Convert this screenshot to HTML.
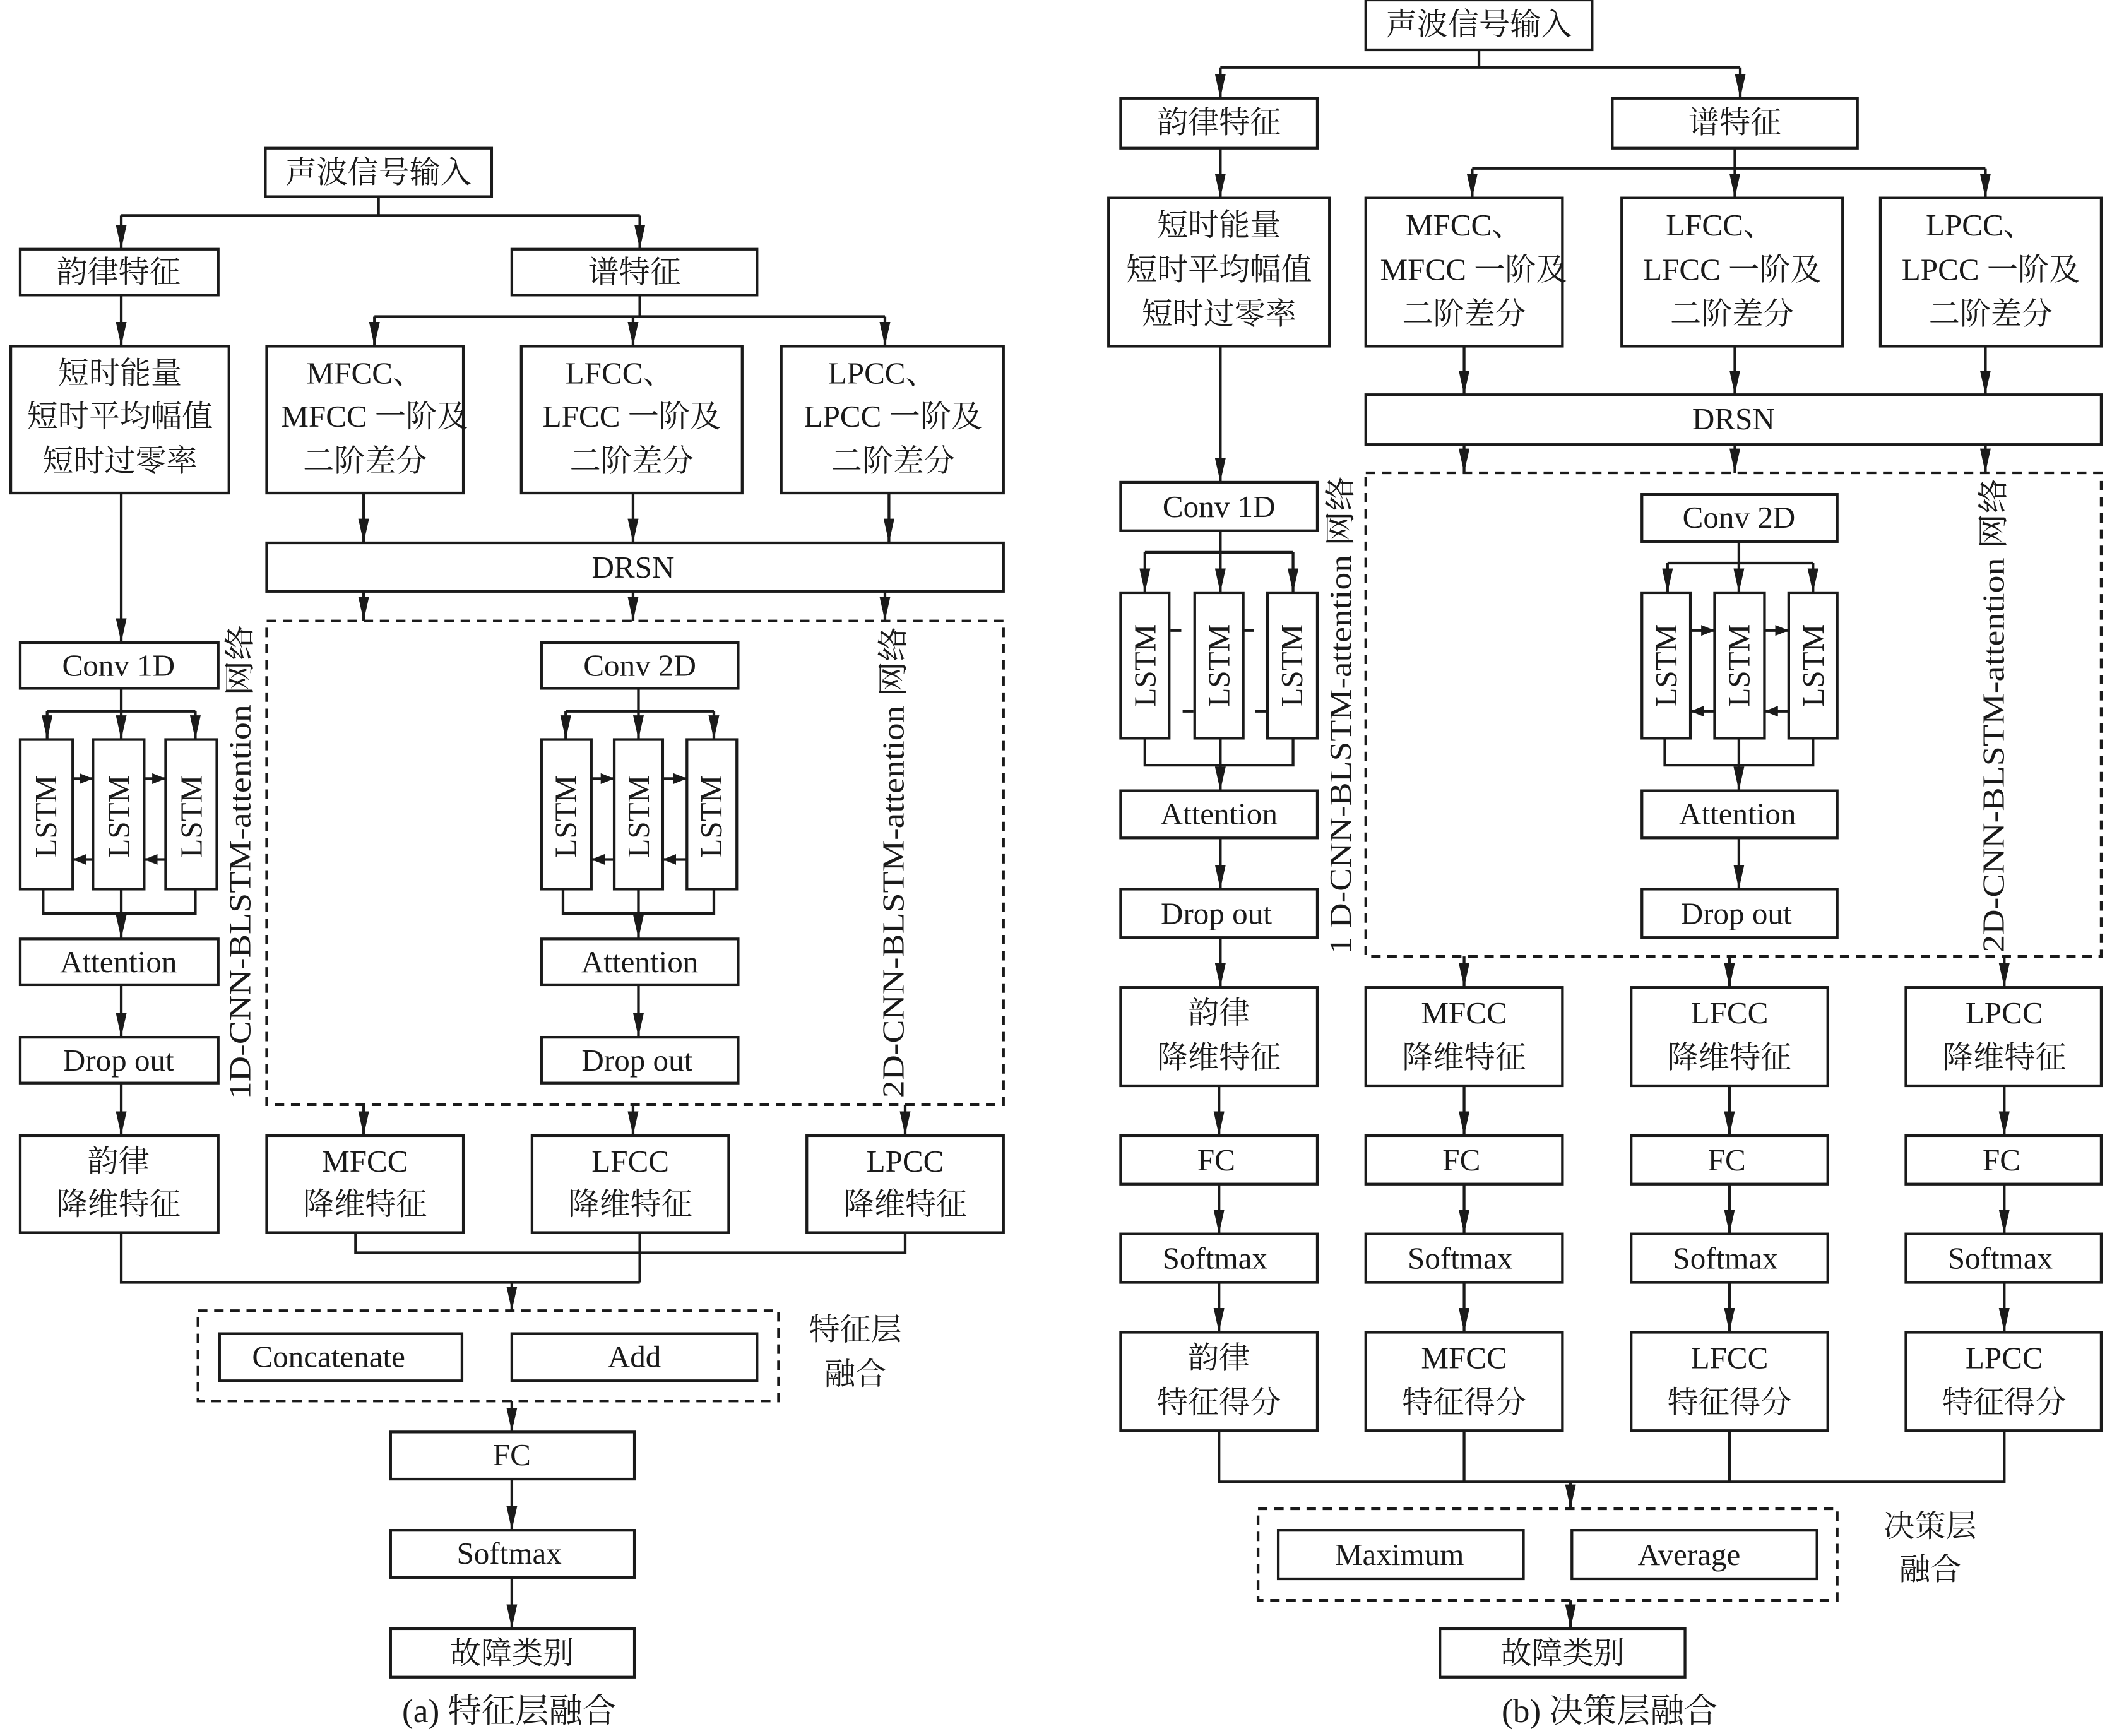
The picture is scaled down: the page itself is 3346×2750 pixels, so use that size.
<!DOCTYPE html>
<html><head><meta charset="utf-8"><style>
html,body{margin:0;padding:0;background:#fff}
svg{display:block}
text{font-family:"Liberation Serif","Noto Serif CJK SC",serif;fill:#1a1a1a;font-size:23px;text-anchor:middle;dominant-baseline:central}
rect{fill:none;stroke:#1a1a1a;stroke-width:2}
.d{stroke-dasharray:7,5}
line,polyline{stroke:#1a1a1a;stroke-width:2;fill:none}
.a{marker-end:url(#ah)}
.s{marker-end:url(#sh)}
</style></head><body>
<svg width="3346" height="2750" viewBox="0 0 1568 1288.7" preserveAspectRatio="none" xmlns="http://www.w3.org/2000/svg">
<defs>
<marker id="ah" markerUnits="userSpaceOnUse" viewBox="0 0 18 8" refX="18" refY="4" markerWidth="18" markerHeight="8" orient="auto"><path d="M0,0 L18,4 L0,8 z" fill="#1a1a1a"/></marker>
<marker id="sh" markerUnits="userSpaceOnUse" viewBox="0 0 10 8" refX="10" refY="4" markerWidth="10" markerHeight="8" orient="auto"><path d="M0,0 L10,4 L0,8 z" fill="#1a1a1a"/></marker>
</defs>

<!-- ===== (a) ===== -->
<rect x="197" y="110" width="168" height="36"/><text x="281" y="128">声波信号输入</text>
<line x1="281" y1="146" x2="281" y2="160"/><line x1="90" y1="160" x2="475" y2="160"/>
<line class="a" x1="90" y1="160" x2="90" y2="185"/><line class="a" x1="475" y1="160" x2="475" y2="185"/>
<rect x="15" y="185" width="147" height="34"/><text x="88" y="202">韵律特征</text>
<rect x="380" y="185" width="182" height="34"/><text x="471" y="202">谱特征</text>
<line class="a" x1="90" y1="219" x2="90" y2="257"/>
<rect x="8" y="257" width="162" height="109"/>
<text x="89" y="277">短时能量</text><text x="89" y="309">短时平均幅值</text><text x="89" y="342">短时过零率</text>
<line x1="475" y1="219" x2="475" y2="235"/><line x1="278" y1="235" x2="657" y2="235"/>
<line class="a" x1="278" y1="235" x2="278" y2="257"/><line class="a" x1="470" y1="235" x2="470" y2="257"/><line class="a" x1="657" y1="235" x2="657" y2="257"/>
<rect x="198" y="257" width="146" height="109"/><text x="271" y="277">MFCC、</text><text x="278" y="309">MFCC 一阶及</text><text x="271" y="342">二阶差分</text>
<rect x="387" y="257" width="164" height="109"/><text x="460" y="277">LFCC、</text><text x="469" y="309">LFCC 一阶及</text><text x="469" y="342">二阶差分</text>
<rect x="580" y="257" width="165" height="109"/><text x="655" y="277">LPCC、</text><text x="663" y="309">LPCC 一阶及</text><text x="663" y="342">二阶差分</text>
<line class="a" x1="270" y1="366" x2="270" y2="403"/><line class="a" x1="470" y1="366" x2="470" y2="403"/><line class="a" x1="660" y1="366" x2="660" y2="403"/>
<rect x="198" y="403" width="547" height="36"/><text x="470" y="421">DRSN</text>
<line class="a" x1="270" y1="439" x2="270" y2="461"/><line class="a" x1="470" y1="439" x2="470" y2="461"/><line class="a" x1="657" y1="439" x2="657" y2="461"/>
<rect class="d" x="198" y="461" width="547" height="359"/>
<line class="a" x1="90" y1="366" x2="90" y2="477"/>
<rect x="15" y="477" width="147" height="34"/><text x="88" y="494">Conv  1D</text>
<line x1="90" y1="511" x2="90" y2="528"/><line x1="35" y1="528" x2="145" y2="528"/>
<line class="a" x1="35" y1="528" x2="35" y2="549"/><line class="a" x1="90" y1="528" x2="90" y2="549"/><line class="a" x1="145" y1="528" x2="145" y2="549"/>
<rect x="15" y="549" width="39" height="111"/><rect x="69" y="549" width="38" height="111"/><rect x="123" y="549" width="38" height="111"/>
<text transform="rotate(-90 34 606)" x="34" y="606">LSTM</text><text transform="rotate(-90 88 606)" x="88" y="606">LSTM</text><text transform="rotate(-90 142 606)" x="142" y="606">LSTM</text>
<line class="s" x1="54" y1="578" x2="69" y2="578"/><line class="s" x1="107" y1="578" x2="123" y2="578"/>
<line class="s" x1="69" y1="638" x2="54" y2="638"/><line class="s" x1="123" y1="638" x2="107" y2="638"/>
<polyline points="32,660 32,678 145,678 145,660"/><line x1="90" y1="660" x2="90" y2="678"/>
<line class="a" x1="90" y1="678" x2="90" y2="697"/>
<rect x="15" y="697" width="147" height="34"/><text x="88" y="714">Attention</text>
<line class="a" x1="90" y1="731" x2="90" y2="770"/>
<rect x="15" y="770" width="147" height="34"/><text x="88" y="787">Drop out</text>
<line class="a" x1="90" y1="804" x2="90" y2="843"/>
<rect x="15" y="843" width="147" height="72"/><text x="88" y="862">韵律</text><text x="88" y="894">降维特征</text>
<text transform="rotate(-90 178 640)" x="178" y="640" textLength="352" lengthAdjust="spacingAndGlyphs">1D-CNN-BLSTM-attention 网络</text>
<rect x="402" y="477" width="146" height="34"/><text x="475" y="494">Conv  2D</text>
<line x1="474" y1="511" x2="474" y2="528"/><line x1="420" y1="528" x2="530" y2="528"/>
<line class="a" x1="420" y1="528" x2="420" y2="549"/><line class="a" x1="474" y1="528" x2="474" y2="549"/><line class="a" x1="530" y1="528" x2="530" y2="549"/>
<rect x="402" y="549" width="37" height="111"/><rect x="456" y="549" width="36" height="111"/><rect x="510" y="549" width="37" height="111"/>
<text transform="rotate(-90 420 606)" x="420" y="606">LSTM</text><text transform="rotate(-90 474 606)" x="474" y="606">LSTM</text><text transform="rotate(-90 528 606)" x="528" y="606">LSTM</text>
<line class="s" x1="439" y1="578" x2="456" y2="578"/><line class="s" x1="492" y1="578" x2="510" y2="578"/>
<line class="s" x1="456" y1="638" x2="439" y2="638"/><line class="s" x1="510" y1="638" x2="492" y2="638"/>
<polyline points="418,660 418,678 530,678 530,660"/><line x1="474" y1="660" x2="474" y2="678"/>
<line class="a" x1="474" y1="678" x2="474" y2="697"/>
<rect x="402" y="697" width="146" height="34"/><text x="475" y="714">Attention</text>
<line class="a" x1="474" y1="731" x2="474" y2="770"/>
<rect x="402" y="770" width="146" height="34"/><text x="473" y="787">Drop out</text>
<text transform="rotate(-90 663 640)" x="663" y="640" textLength="350" lengthAdjust="spacingAndGlyphs">2D-CNN-BLSTM-attention 网络</text>
<line class="a" x1="270" y1="820" x2="270" y2="843"/><line class="a" x1="470" y1="820" x2="470" y2="843"/><line class="a" x1="672" y1="820" x2="672" y2="843"/>
<rect x="198" y="843" width="146" height="72"/><text x="271" y="862">MFCC</text><text x="271" y="894">降维特征</text>
<rect x="395" y="843" width="146" height="72"/><text x="468" y="862">LFCC</text><text x="468" y="894">降维特征</text>
<rect x="599" y="843" width="146" height="72"/><text x="672" y="862">LPCC</text><text x="672" y="894">降维特征</text>
<polyline points="264,915 264,930 672,930 672,915"/><line x1="475" y1="915" x2="475" y2="952"/>
<polyline points="90,915 90,952 475,952"/>
<line class="a" x1="380" y1="952" x2="380" y2="973"/>
<rect class="d" x="147" y="973" width="431" height="67"/>
<rect x="163" y="990" width="180" height="35"/><text x="244" y="1007">Concatenate</text>
<rect x="380" y="990" width="182" height="35"/><text x="471" y="1007">Add</text>
<text x="635" y="987">特征层</text><text x="635" y="1020">融合</text>
<line class="a" x1="380" y1="1040" x2="380" y2="1063"/>
<rect x="290" y="1063" width="181" height="35"/><text x="380" y="1080">FC</text>
<line class="a" x1="380" y1="1098" x2="380" y2="1136"/>
<rect x="290" y="1136" width="181" height="35"/><text x="378" y="1153">Softmax</text>
<line class="a" x1="380" y1="1171" x2="380" y2="1209"/>
<rect x="290" y="1209" width="181" height="36"/><text x="380" y="1227">故障类别</text>
<text x="378" y="1270" style="font-size:25px">(a) 特征层融合</text>

<!-- ===== (b) ===== -->
<rect x="1014" y="0" width="168" height="37"/><text x="1098" y="18">声波信号输入</text>
<line x1="1098" y1="37" x2="1098" y2="50"/><line x1="906" y1="50" x2="1292" y2="50"/>
<line class="a" x1="906" y1="50" x2="906" y2="73"/><line class="a" x1="1292" y1="50" x2="1292" y2="73"/>
<rect x="832" y="73" width="146" height="37"/><text x="905" y="91">韵律特征</text>
<rect x="1197" y="73" width="182" height="37"/><text x="1288" y="91">谱特征</text>
<line class="a" x1="906" y1="110" x2="906" y2="147"/>
<rect x="823" y="147" width="164" height="110"/>
<text x="905" y="167">短时能量</text><text x="905" y="200">短时平均幅值</text><text x="905" y="233">短时过零率</text>
<line x1="1288" y1="110" x2="1288" y2="125"/><line x1="1093" y1="125" x2="1474" y2="125"/>
<line class="a" x1="1093" y1="125" x2="1093" y2="147"/><line class="a" x1="1288" y1="125" x2="1288" y2="147"/><line class="a" x1="1474" y1="125" x2="1474" y2="147"/>
<rect x="1014" y="147" width="146" height="110"/><text x="1087" y="167">MFCC、</text><text x="1094" y="200">MFCC 一阶及</text><text x="1087" y="233">二阶差分</text>
<rect x="1204" y="147" width="164" height="110"/><text x="1277" y="167">LFCC、</text><text x="1286" y="200">LFCC 一阶及</text><text x="1286" y="233">二阶差分</text>
<rect x="1396" y="147" width="164" height="110"/><text x="1470" y="167">LPCC、</text><text x="1478" y="200">LPCC 一阶及</text><text x="1478" y="233">二阶差分</text>
<line class="a" x1="1087" y1="257" x2="1087" y2="293"/><line class="a" x1="1288" y1="257" x2="1288" y2="293"/><line class="a" x1="1474" y1="257" x2="1474" y2="293"/>
<rect x="1014" y="293" width="546" height="37"/><text x="1287" y="311">DRSN</text>
<line class="a" x1="1087" y1="330" x2="1087" y2="351"/><line class="a" x1="1288" y1="330" x2="1288" y2="351"/><line class="a" x1="1474" y1="330" x2="1474" y2="351"/>
<rect class="d" x="1014" y="351" width="546" height="359"/>
<line class="a" x1="906" y1="257" x2="906" y2="358"/>
<rect x="832" y="358" width="146" height="36"/><text x="905" y="376">Conv  1D</text>
<line x1="906" y1="394" x2="906" y2="410"/><line x1="850" y1="410" x2="960" y2="410"/>
<line class="a" x1="850" y1="410" x2="850" y2="440"/><line class="a" x1="906" y1="410" x2="906" y2="440"/><line class="a" x1="960" y1="410" x2="960" y2="440"/>
<rect x="832" y="440" width="36" height="108"/><rect x="887" y="440" width="36" height="108"/><rect x="941" y="440" width="37" height="108"/>
<text transform="rotate(-90 850 494)" x="850" y="494">LSTM</text><text transform="rotate(-90 905 494)" x="905" y="494">LSTM</text><text transform="rotate(-90 959 494)" x="959" y="494">LSTM</text>
<line x1="869" y1="468" x2="877" y2="468"/><line x1="923" y1="468" x2="931" y2="468"/>
<line x1="878" y1="528" x2="886" y2="528"/><line x1="932" y1="528" x2="940" y2="528"/>
<polyline points="850,548 850,568 960,568 960,548"/><line x1="906" y1="548" x2="906" y2="568"/>
<line class="a" x1="906" y1="568" x2="906" y2="587"/>
<rect x="832" y="587" width="146" height="35"/><text x="905" y="604">Attention</text>
<line class="a" x1="906" y1="622" x2="906" y2="660"/>
<rect x="832" y="660" width="146" height="36"/><text x="903" y="678">Drop out</text>
<line class="a" x1="906" y1="696" x2="906" y2="733"/>
<text transform="rotate(-90 995 531)" x="995" y="531" textLength="355" lengthAdjust="spacingAndGlyphs">1 D-CNN-BLSTM-attention 网络</text>
<rect x="1219" y="367" width="145" height="35"/><text x="1291" y="384">Conv  2D</text>
<line x1="1291" y1="402" x2="1291" y2="418"/><line x1="1238" y1="418" x2="1346" y2="418"/>
<line class="a" x1="1238" y1="418" x2="1238" y2="440"/><line class="a" x1="1291" y1="418" x2="1291" y2="440"/><line class="a" x1="1346" y1="418" x2="1346" y2="440"/>
<rect x="1219" y="440" width="36" height="108"/><rect x="1273" y="440" width="37" height="108"/><rect x="1328" y="440" width="36" height="108"/>
<text transform="rotate(-90 1237 494)" x="1237" y="494">LSTM</text><text transform="rotate(-90 1291 494)" x="1291" y="494">LSTM</text><text transform="rotate(-90 1346 494)" x="1346" y="494">LSTM</text>
<line class="s" x1="1255" y1="468" x2="1273" y2="468"/><line class="s" x1="1310" y1="468" x2="1328" y2="468"/>
<line class="s" x1="1273" y1="528" x2="1255" y2="528"/><line class="s" x1="1328" y1="528" x2="1310" y2="528"/>
<polyline points="1236,548 1236,568 1346,568 1346,548"/><line x1="1291" y1="548" x2="1291" y2="568"/>
<line class="a" x1="1291" y1="568" x2="1291" y2="587"/>
<rect x="1219" y="587" width="145" height="35"/><text x="1290" y="604">Attention</text>
<line class="a" x1="1291" y1="622" x2="1291" y2="660"/>
<rect x="1219" y="660" width="145" height="36"/><text x="1289" y="678">Drop out</text>
<text transform="rotate(-90 1480 531)" x="1480" y="531" textLength="352" lengthAdjust="spacingAndGlyphs">2D-CNN-BLSTM-attention 网络</text>
<line class="a" x1="1087" y1="710" x2="1087" y2="733"/><line class="a" x1="1284" y1="710" x2="1284" y2="733"/><line class="a" x1="1488" y1="710" x2="1488" y2="733"/>

<rect x="832" y="733" width="146" height="73"/><text x="905" y="752">韵律</text><text x="905" y="785">降维特征</text>
<rect x="1014" y="733" width="146" height="73"/><text x="1087" y="752">MFCC</text><text x="1087" y="785">降维特征</text>
<rect x="1211" y="733" width="146" height="73"/><text x="1284" y="752">LFCC</text><text x="1284" y="785">降维特征</text>
<rect x="1415" y="733" width="145" height="73"/><text x="1488" y="752">LPCC</text><text x="1488" y="785">降维特征</text>

<line class="a" x1="905" y1="806" x2="905" y2="843"/><line class="a" x1="1087" y1="806" x2="1087" y2="843"/><line class="a" x1="1284" y1="806" x2="1284" y2="843"/><line class="a" x1="1488" y1="806" x2="1488" y2="843"/>
<rect x="832" y="843" width="146" height="36"/><text x="903" y="861">FC</text>
<rect x="1014" y="843" width="146" height="36"/><text x="1085" y="861">FC</text>
<rect x="1211" y="843" width="146" height="36"/><text x="1282" y="861">FC</text>
<rect x="1415" y="843" width="145" height="36"/><text x="1486" y="861">FC</text>
<line class="a" x1="905" y1="879" x2="905" y2="916"/><line class="a" x1="1087" y1="879" x2="1087" y2="916"/><line class="a" x1="1284" y1="879" x2="1284" y2="916"/><line class="a" x1="1488" y1="879" x2="1488" y2="916"/>
<rect x="832" y="916" width="146" height="36"/><text x="902" y="934">Softmax</text>
<rect x="1014" y="916" width="146" height="36"/><text x="1084" y="934">Softmax</text>
<rect x="1211" y="916" width="146" height="36"/><text x="1281" y="934">Softmax</text>
<rect x="1415" y="916" width="145" height="36"/><text x="1485" y="934">Softmax</text>
<line class="a" x1="905" y1="952" x2="905" y2="989"/><line class="a" x1="1087" y1="952" x2="1087" y2="989"/><line class="a" x1="1284" y1="952" x2="1284" y2="989"/><line class="a" x1="1488" y1="952" x2="1488" y2="989"/>
<rect x="832" y="989" width="146" height="73"/><text x="905" y="1008">韵律</text><text x="905" y="1041">特征得分</text>
<rect x="1014" y="989" width="146" height="73"/><text x="1087" y="1008">MFCC</text><text x="1087" y="1041">特征得分</text>
<rect x="1211" y="989" width="146" height="73"/><text x="1284" y="1008">LFCC</text><text x="1284" y="1041">特征得分</text>
<rect x="1415" y="989" width="145" height="73"/><text x="1488" y="1008">LPCC</text><text x="1488" y="1041">特征得分</text>
<polyline points="905,1062 905,1100 1488,1100 1488,1062"/>
<line x1="1087" y1="1062" x2="1087" y2="1100"/><line x1="1284" y1="1062" x2="1284" y2="1100"/>
<line class="a" x1="1166" y1="1100" x2="1166" y2="1120"/>
<rect class="d" x="934" y="1120" width="430" height="68"/>
<rect x="949" y="1136" width="182" height="36"/><text x="1039" y="1154">Maximum</text>
<rect x="1167" y="1136" width="182" height="36"/><text x="1254" y="1154">Average</text>
<text x="1433" y="1133">决策层</text><text x="1433" y="1165">融合</text>
<line class="a" x1="1166" y1="1188" x2="1166" y2="1209"/>
<rect x="1069" y="1209" width="182" height="36"/><text x="1160" y="1227">故障类别</text>
<text x="1195" y="1270" style="font-size:25px">(b) 决策层融合</text>
</svg>
</body></html>
